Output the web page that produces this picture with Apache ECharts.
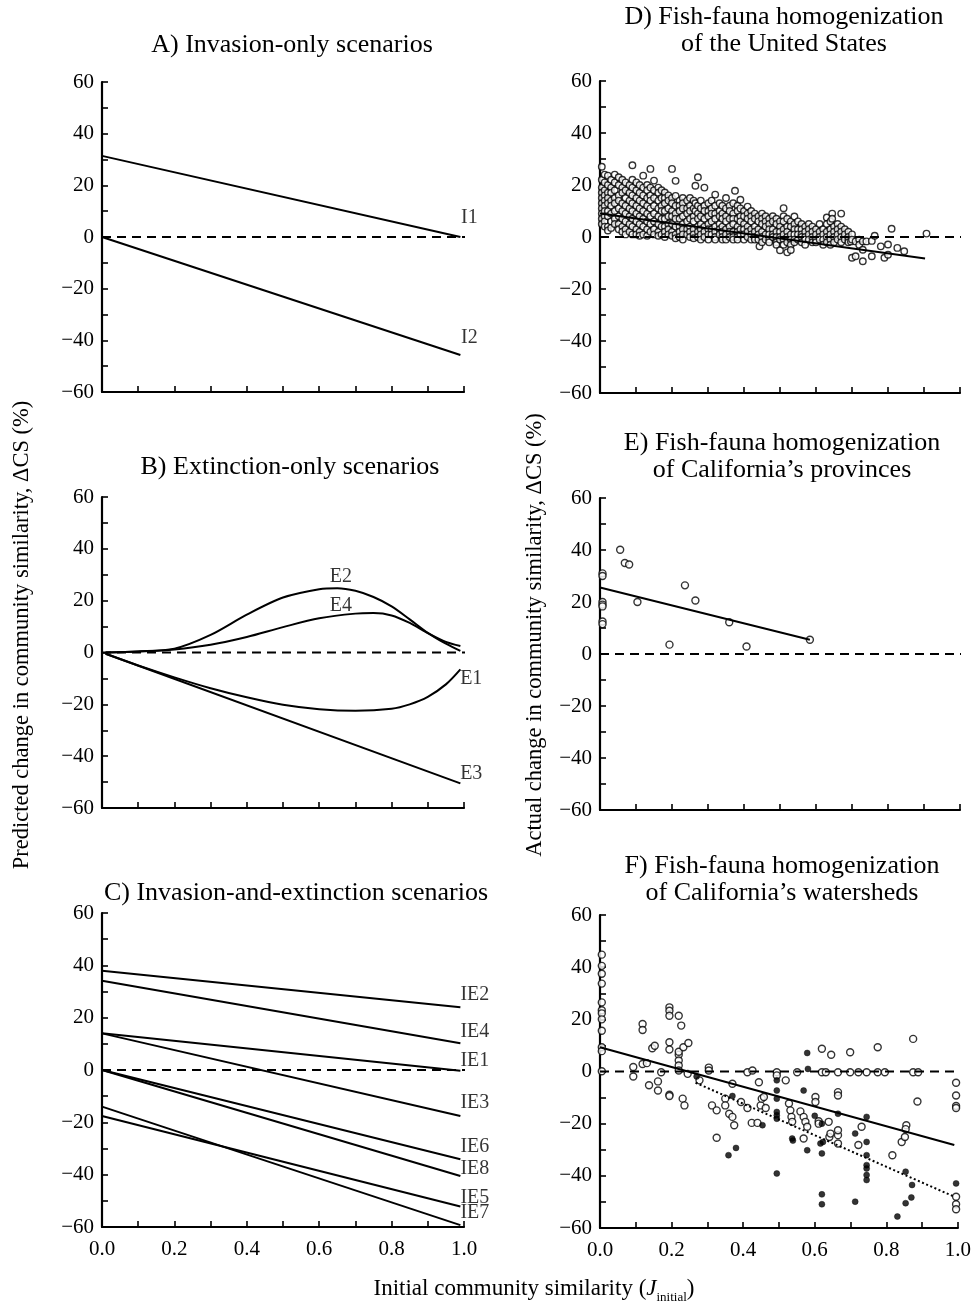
<!DOCTYPE html>
<html><head><meta charset="utf-8">
<script src="https://cdn.jsdelivr.net/npm/echarts@6.0.0/dist/echarts.min.js"></script>
<style>html,body{margin:0;padding:0;background:#fff}#c{width:974px;height:1304px}</style>
</head><body><div id="c"></div>
<script>
// ---------- tick labels ----------
const xTickLabels = [0, 0.2, 0.4, 0.6, 0.8, 1.0];
const yTickLabels = [-60, -40, -20, 0, 20, 40, 60];

// ---------- Panel A ----------
const I1 = [[0, 31.4], [0.99, 0]];
const I2 = [[0, 0], [0.99, -45.7]];
const labelsA = [[1.015, 7.5, 'I1'], [1.015, -39, 'I2']];

// ---------- Panel B ----------
const E2 = [[0.01,0],[0.1,0.4],[0.2,1.5],[0.3,6.8],[0.4,14.6],[0.5,21.2],[0.6,24.4],[0.65,24.8],[0.7,23.8],[0.75,21.4],[0.8,17.8],[0.85,12.8],[0.9,7.6],[0.95,3.4],[0.99,0.6]];
const E4 = [[0.01,0],[0.1,0.4],[0.2,1.2],[0.3,3],[0.4,6],[0.5,9.8],[0.6,13.2],[0.7,15],[0.75,15.2],[0.8,14.3],[0.85,11.4],[0.9,7.5],[0.95,4.1],[0.99,2.5]];
const E1 = [[0.01,-0.5],[0.1,-5],[0.2,-9.6],[0.3,-13.8],[0.4,-17.3],[0.5,-20.2],[0.6,-21.9],[0.7,-22.5],[0.8,-21.7],[0.85,-20],[0.9,-17.1],[0.95,-12.3],[0.99,-6.5]];
const E3 = [[0.01,-0.5],[0.99,-50.5]];
const labelsB = [[0.66, 29.2, 'E2'], [0.66, 18, 'E4'], [1.02, -10, 'E1'], [1.02, -46.6, 'E3']];

// ---------- Panel C ----------
const IE2 = [[0, 37.9], [0.99, 24]];
const IE4 = [[0, 34.1], [0.99, 10.2]];
const IE1 = [[0, 14], [0.99, -0.3]];
const IE3 = [[0, 14], [0.99, -17.6]];
const IE6 = [[0, 0], [0.99, -34.1]];
const IE8 = [[0, 0], [0.99, -40.5]];
const IE7 = [[0, -14], [0.99, -59.3]];
const IE5 = [[0, -17.6], [0.99, -52.2]];
const labelsC = [[1.03, 28.7, 'IE2'], [1.03, 14.6, 'IE4'], [1.03, 3.4, 'IE1'], [1.03, -12.5, 'IE3'],
                 [1.03, -29.3, 'IE6'], [1.03, -37.6, 'IE8'], [1.03, -49, 'IE5'], [1.03, -54.6, 'IE7']];

// ---------- Panel D (x, list of y values per column) ----------
const dColumns = [
[0.005,[27,22,19,17,15,13,11,9,7,5]],
[0.013,[24,21,18,16,14,12,10,8,6,4]],
[0.022,[23.6,20,17,15,13,10,8,4,2.5]],
[0.031,[22,19,17,14,12,9,6,3.5]],
[0.041,[24,21,18,15,13,10,7,5]],
[0.052,[23,20,16,14,11,8,5,3]],
[0.062,[22,19,17,13,10,7,4,2]],
[0.071,[21,18,15,12,9,6,3,1]],
[0.082,[20,17,14,11,8,5,2]],
[0.09,[27.6,22,19,16,13,10,7,4,1]],
[0.101,[21,18,15,12,9,6,3,1]],
[0.11,[20,17,14,11,8,5,2,0.5]],
[0.12,[23.6,19,16,13,10,7,4,1]],
[0.131,[20,18,15,12,9,6,3,0.5]],
[0.14,[26.2,19,16,14,11,8,5,2]],
[0.15,[21.7,18,15,12,9,6,3,1]],
[0.162,[19,17,14,11,8,5,2,0.5]],
[0.171,[18,15,12,10,7,4,1]],
[0.18,[17.1,15,13,10,7,4,2,0]],
[0.19,[16,14,11,8,5,3,1]],
[0.20,[26.2,15,13,10,8,5,2,0.5]],
[0.21,[21.6,15.8,12,9,7,4,1,-0.5]],
[0.221,[14,12,10,7,4,2,0]],
[0.23,[15,13,11,8,5,3,1,-1]],
[0.242,[14,11,9,6,3,1]],
[0.25,[15,12,10,7,4,2,0]],
[0.26,[14,11,8,6,3,1,-0.5]],
[0.265,[19.7,13,10]],
[0.272,[23,12,9,7,4,2,0]],
[0.28,[14,11,8,5,3,1,-1]],
[0.29,[19,12,10,7,4,2,0]],
[0.301,[13,10,8,5,3,1,-1]],
[0.31,[14,11,9,6,3,1]],
[0.32,[16.3,12,9,7,4,2,0,-1]],
[0.332,[13,10,8,5,3,1]],
[0.34,[12,9,7,4,2,0,-1]],
[0.35,[15,11,8,6,3,1,-1]],
[0.36,[12,10,7,4,2,0]],
[0.37,[13,9,7,5,2,0,-1]],
[0.375,[17.8]],
[0.382,[12,10,7,4,2,0,-1]],
[0.39,[14.3,11,8,6,3,1]],
[0.40,[10,8,5,3,1,-1]],
[0.41,[11.7,9,7,4,2,0]],
[0.42,[10,8,6,3,1,-1]],
[0.43,[9,7,4,2,0,-1]],
[0.44,[8,6,3,1,-1]],
[0.443,[-3.6]],
[0.45,[9,7,5,2,0,-2]],
[0.46,[8,6,4,1,-1]],
[0.47,[7,5,3,1,-1,-2]],
[0.48,[8,6,3,1,0]],
[0.49,[7,5,2,0,-2,-3]],
[0.50,[6,4,2,0,-1,-5.1]],
[0.51,[11.1,8,6,3,1,-1,-3]],
[0.52,[7,4,2,0,-2,-5.9]],
[0.53,[6,4,1,-1,-3,-5]],
[0.54,[7.9,5,3,1,-1,-2]],
[0.55,[6,3,1,-1]],
[0.56,[5,3,1,0,-2]],
[0.57,[4,2,0,-1,-3]],
[0.58,[5,3,1,-1]],
[0.59,[4,2,0,-2]],
[0.60,[3,1,-1,-2]],
[0.61,[5,2,0,-1]],
[0.62,[3,1,-1,-3]],
[0.63,[7.5,5,2,0,-2]],
[0.64,[6,3,1,-1,-3]],
[0.645,[9,7]],
[0.65,[4,2,0,-2]],
[0.66,[5,3,1,-1]],
[0.67,[9,4,2,0,-2]],
[0.68,[3,1,-1]],
[0.69,[2,0,-1,-2]],
[0.697,[-1.7]],
[0.70,[-8,1,-1]],
[0.71,[-7.4,-1.7]],
[0.72,[-1,-3]],
[0.73,[-9.3,-4.9,-1.7]],
[0.74,[-1.7]],
[0.755,[-7.4,-1.5]],
[0.763,[0.5]],
[0.78,[-3.6]],
[0.79,[-8]],
[0.80,[-6.8,-2.9]],
[0.81,[3.2]],
[0.826,[-4.2]],
[0.845,[-5.5]],
[0.907,[1.3]]
];
const dFit = [[0, 9], [0.903, -8.3]];

// ---------- Panel E ----------
const ePoints = [[0.056,40.1],[0.069,35],[0.081,34.4],[0.007,31],[0.007,30],[0.007,20],[0.007,19],[0.007,18.3],
                 [0.007,12.5],[0.007,11.5],[0.104,20],[0.193,3.6],[0.236,26.4],[0.265,20.6],[0.359,12.2],[0.407,2.9],[0.583,5.5]];
const eFit = [[0, 25.6], [0.583, 5.5]];

// ---------- Panel F ----------
const fOpen = [
[0.005,44.8],[0.005,40.5],[0.005,37.5],[0.005,33.7],[0.005,26.5],[0.005,23.5],[0.005,22.3],[0.005,20],[0.005,15.6],[0.005,9.3],[0.005,7.8],[0.005,0.1],
[0.093,1.7],[0.093,-1.9],[0.119,18.2],[0.119,15.9],[0.119,2.9],[0.131,3.2],[0.137,-5.3],[0.146,8.9],[0.153,9.9],[0.162,-3.8],[0.162,-7.3],[0.171,-0.3],
[0.194,24.6],[0.194,23.3],[0.194,21.4],[0.194,11.2],[0.194,8.4],[0.194,-8.9],[0.194,-9.4],
[0.220,21.4],[0.227,17.6],[0.220,6.4],[0.220,7.6],[0.220,4.2],[0.220,2.3],[0.220,0.4],[0.231,-10.4],[0.236,-13.0],[0.233,9.3],[0.247,10.9],[0.245,-0.9],
[0.278,-3.4],[0.304,1.5],[0.304,0.4],[0.313,-13.0],[0.326,-14.9],[0.326,-25.4],[0.350,-10.4],[0.350,-13.0],[0.361,-16.2],[0.370,-17.4],[0.375,-20.6],
[0.370,-4.7],[0.394,-11.7],[0.412,-14.0],[0.412,-0.3],[0.426,0.4],[0.424,-19.7],[0.440,-19.7],[0.444,-4.1],[0.449,-13.0],[0.452,-10.4],[0.458,-9.8],[0.463,-14.0],
[0.494,-0.3],[0.494,-1.5],[0.519,-3.4],[0.528,-12.3],[0.532,-14.9],[0.535,-17.4],[0.537,-19.3],[0.551,-0.3],[0.560,-15.3],[0.569,-17.4],[0.574,-19.3],[0.579,-21.2],[0.569,-25.7],
[0.602,-9.8],[0.602,-11.7],[0.611,-19.1],[0.611,-20.0],[0.620,8.7],[0.620,-0.3],[0.631,-0.3],[0.639,-19.3],[0.641,-25.1],[0.644,-23.8],[0.646,6.4],
[0.665,-0.3],[0.665,-7.9],[0.665,-9.2],[0.665,-24.4],[0.665,-22.5],[0.665,-27.6],[0.699,7.4],[0.699,-0.3],[0.722,-0.3],[0.722,-28.2],[0.731,-21.2],[0.745,-0.3],
[0.776,9.3],[0.776,-0.3],[0.796,-0.3],[0.817,-32.1],[0.856,-20.6],[0.854,-22.1],[0.843,-27.0],[0.852,-25.1],[0.875,12.5],[0.875,-0.3],[0.889,-0.3],[0.887,-11.5],
[0.995,-4.3],[0.995,-9.2],[0.995,-13.2],[0.995,-14.0],[0.995,-48.0],[0.995,-50.9],[0.995,-52.8]
];
const fFilled = [
[0.270,-1.9],[0.370,-9.4],[0.359,-32.1],[0.380,-29.3],[0.454,-20.6],[0.494,-3.4],[0.494,-7.3],[0.494,-10.4],[0.494,-15.5],[0.494,-16.8],[0.494,-18.1],[0.494,-39.1],
[0.537,-25.7],[0.539,-26.5],[0.569,-7.3],[0.579,7.1],[0.581,1.0],[0.579,-30.2],[0.600,-17.0],[0.620,-20.0],[0.616,-27.6],[0.623,-27.0],[0.620,-31.4],[0.620,-47.1],[0.620,-50.9],
[0.665,-16.2],[0.713,-23.8],[0.713,-49.9],[0.745,-17.4],[0.745,-27.0],[0.745,-32.1],[0.745,-35.9],[0.745,-37.2],[0.745,-39.7],[0.745,-41.6],
[0.854,-38.4],[0.872,-43.5],[0.870,-48.3],[0.854,-50.5],[0.831,-55.6],[0.995,-42.9]
];
const fFitAll = [[0, 9.3], [0.99, -28.2]];
const fFitFilled = [[0.267, -4.3], [0.99, -48]];

// ---------- build ----------
const FONT = 'Liberation Serif';
const zeroLeft = [[0, 0], [1.025, 0]];
const zeroRight = [[0, 0], [1.025, 0]];
const dPoints = dColumns.flatMap(c => c[1].map(y => [c[0], y]));

const grids = [
  {left: 102, top: 82, width: 362, height: 310},
  {left: 102, top: 497, width: 362, height: 311},
  {left: 102, top: 913, width: 362, height: 314},
  {left: 600, top: 81, width: 360, height: 312},
  {left: 600, top: 498, width: 360, height: 312},
  {left: 600, top: 915, width: 360, height: 313}
];
function fmtY(v) { return yTickLabels.indexOf(v) >= 0 ? (v < 0 ? '\u2212' + (-v) : String(v)) : ''; }
function fmtX(v) { const r = Math.round(v * 10) / 10; return xTickLabels.some(t => Math.abs(t - r) < 1e-6) ? r.toFixed(1) : ''; }
const xAxes = grids.map((g, i) => ({
  type: 'value', gridIndex: i, min: 0, max: 1, interval: 0.1,
  axisLine: {onZero: false, lineStyle: {color: '#000', width: 2.2}},
  axisTick: {inside: true, length: 6, lineStyle: {color: '#000', width: 1.6}},
  axisLabel: {show: i === 2 || i === 5, formatter: fmtX, fontFamily: FONT, fontSize: 21, color: '#000', margin: 12, showMinLabel: true, showMaxLabel: true},
  splitLine: {show: false}
}));
const yAxes = grids.map((g, i) => ({
  type: 'value', gridIndex: i, min: -60, max: 60, interval: 10,
  axisLine: {onZero: false, lineStyle: {color: '#000', width: 2.2}},
  axisTick: {inside: true, length: 6, lineStyle: {color: '#000', width: 1.6}},
  axisLabel: {formatter: fmtY, fontFamily: FONT, fontSize: 21, color: '#000', margin: 8, showMinLabel: true, showMaxLabel: true},
  splitLine: {show: false}
}));

function line(i, data, opts) {
  return Object.assign({type: 'line', xAxisIndex: i, yAxisIndex: i, data: data, showSymbol: false, symbol: 'none',
    clip: false, silent: true, animation: false, lineStyle: {color: '#000', width: 2}}, opts || {});
}
function dashed(i, data) { return line(i, data, {lineStyle: {color: '#000', width: 2, type: [9, 6]}}); }
function labels(i, data) {
  return {type: 'scatter', xAxisIndex: i, yAxisIndex: i, data: data, symbolSize: 1, clip: false, silent: true, animation: false,
    itemStyle: {color: 'rgba(0,0,0,0)'},
    label: {show: true, position: 'inside', formatter: p => p.data[2], fontFamily: FONT, fontSize: 20, color: '#000'}};
}
function scatter(i, data, size, filled) {
  return {type: 'scatter', xAxisIndex: i, yAxisIndex: i, data: data, symbol: 'circle', symbolSize: size, clip: false, silent: true, animation: false,
    itemStyle: filled ? {color: '#000', borderColor: '#000', borderWidth: 0.5} : {color: '#fff', borderColor: '#000', borderWidth: 1.4}};
}

const series = [
  dashed(0, zeroLeft), line(0, I1), line(0, I2), labels(0, labelsA),
  dashed(1, zeroLeft), line(1, E2, {smooth: 0.3}), line(1, E4, {smooth: 0.3}), line(1, E1, {smooth: 0.3}), line(1, E3), labels(1, labelsB),
  dashed(2, zeroLeft), line(2, IE2), line(2, IE4), line(2, IE1), line(2, IE3), line(2, IE6), line(2, IE8), line(2, IE7), line(2, IE5), labels(2, labelsC),
  dashed(3, zeroRight), line(3, dFit), scatter(3, dPoints, 6.5, false),
  dashed(4, zeroRight), scatter(4, ePoints, 7, false), line(4, eFit),
  dashed(5, zeroRight), line(5, fFitAll), line(5, fFitFilled, {lineStyle: {color: '#000', width: 2, type: [2, 2.5]}}),
  scatter(5, fOpen, 7, false), scatter(5, fFilled, 6, true)
];

function txt(x, y, s, size, extra) {
  return Object.assign({type: 'text', x: x, y: y, silent: true,
    style: {text: s, font: size + 'px "' + FONT + '"', fontFamily: FONT, fontSize: size, fill: '#000',
      align: 'center', verticalAlign: 'middle', textAlign: 'center', textVerticalAlign: 'middle'}}, extra || {});
}
const TS = 26;
const graphics = [
  txt(292, 45, 'A) Invasion-only scenarios', TS),
  txt(290, 467, 'B) Extinction-only scenarios', TS),
  txt(296, 893, 'C) Invasion-and-extinction scenarios', TS),
  txt(784, 17, 'D) Fish-fauna homogenization', TS),
  txt(784, 44, 'of the United States', TS),
  txt(782, 443, 'E) Fish-fauna homogenization', TS),
  txt(782, 470, 'of California\u2019s provinces', TS),
  txt(782, 866, 'F) Fish-fauna homogenization', TS),
  txt(782, 893, 'of California\u2019s watersheds', TS),
  txt(22, 635, 'Predicted change in community similarity, \u0394CS (%)', 22.5, {rotation: Math.PI / 2}),
  txt(535, 635, 'Actual change in community similarity, \u0394CS (%)', 22.5, {rotation: Math.PI / 2}),
  {type: 'text', x: 534, y: 1289, silent: true, style: {
    text: '{n|Initial community similarity (}{j|J}{s|initial}{n|)}',
    align: 'center', verticalAlign: 'middle', textAlign: 'center', textVerticalAlign: 'middle', fill: '#000',
    rich: {
      n: {fontFamily: FONT, fontSize: 23, lineHeight: 30, verticalAlign: 'middle', color: '#000'},
      j: {fontFamily: FONT, fontSize: 23, fontStyle: 'italic', lineHeight: 30, verticalAlign: 'middle', color: '#000'},
      s: {fontFamily: FONT, fontSize: 13, verticalAlign: 'bottom', color: '#000'}
    }}}
];

const chart = echarts.init(document.getElementById('c'), null, {renderer: 'canvas'});
chart.setOption({
  animation: false,
  backgroundColor: '#fff',
  grid: grids,
  xAxis: xAxes,
  yAxis: yAxes,
  series: series,
  graphic: graphics
});
</script></body></html>
